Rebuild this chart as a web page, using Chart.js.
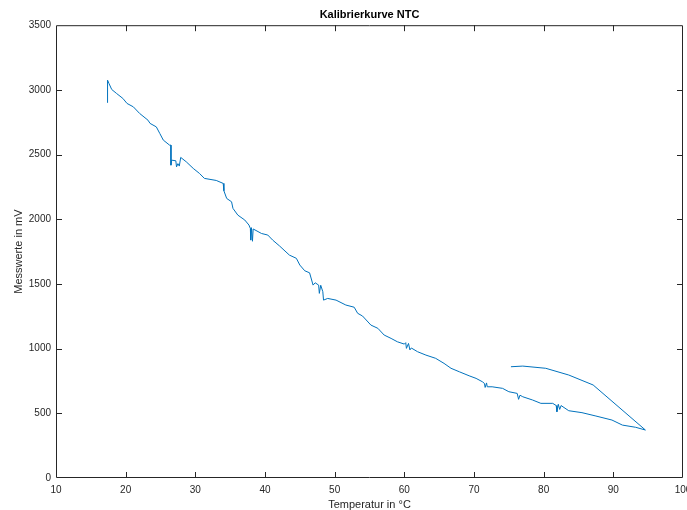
<!DOCTYPE html>
<html>
<head>
<meta charset="utf-8">
<script src="https://cdn.jsdelivr.net/npm/chart.js@4"></script>
<style>
  html, body { margin: 0; padding: 0; background: #fff; }
  #wrap { width: 687px; height: 510px; }
</style>
</head>
<body>
<div id="wrap"><canvas id="ntcChart"></canvas></div>
<script>
// Temperatur in °C (Messreihe, in Aufnahmereihenfolge)
const temperatur = [
  17.4, 17.4, 17.6, 18.0, 18.7, 19.6, 20.2, 21.1, 22.0, 23.2, 23.5, 24.4, 24.9, 25.4, 26.3,
  26.5, 26.5, 26.6, 27.2, 27.3, 27.5, 27.7, 27.9, 28.7, 29.7, 30.6, 31.3, 33.0, 34.0, 34.1,
  34.5, 35.2, 35.4, 36.1, 37.1, 37.7, 37.9, 37.95, 38.05, 38.2, 38.3, 39.5, 40.4, 41.1, 42.1,
  43.5, 44.5, 45.0, 45.7, 46.4, 46.9, 47.2, 47.7, 47.8, 48.0, 48.3, 48.4, 49.0, 50.2, 51.6,
  52.8, 53.3, 54.0, 55.2, 56.2, 57.1, 58.1, 59.0, 60.0, 60.2, 60.3, 60.6, 60.8, 61.0, 61.9,
  63.1, 64.5, 65.7, 66.7, 67.9, 69.3, 70.3, 71.2, 71.5, 71.6, 71.8, 71.9, 72.6, 74.1, 75.0,
  76.2, 76.4, 76.6, 77.0, 78.4, 79.6, 81.3, 81.8, 81.9, 82.1, 82.3, 82.5, 83.6, 85.5, 87.5,
  89.8, 91.3, 93.2, 94.6, 87.1, 83.6, 80.3, 77.0, 75.3
];
// Messwerte in mV
const messwerte = [
  2900, 3075, 3050, 3003, 2972, 2934, 2895, 2869, 2818, 2766, 2741, 2714, 2663, 2612, 2573,
  2573, 2418, 2457, 2452, 2405, 2430, 2411, 2478, 2444, 2393, 2354, 2316, 2300, 2277, 2220,
  2161, 2135, 2084, 2032, 1994, 1955, 1929, 1839, 1935, 1830, 1925, 1890, 1878, 1839, 1793,
  1723, 1698, 1646, 1602, 1586, 1491, 1509, 1491, 1427, 1490, 1440, 1375, 1388, 1375, 1337,
  1320, 1273, 1252, 1182, 1157, 1105, 1079, 1053, 1035, 1046, 1002, 1040, 990, 1005, 976,
  950, 925, 886, 848, 821, 790, 770, 744, 731, 700, 735, 705, 705, 693, 667,
  654, 608, 640, 628, 603, 577, 577, 560, 512, 570, 530, 560, 520, 505, 479,
  448, 409, 392, 371, 719, 796, 848, 865, 860
];

const xTicks = [10, 20, 30, 40, 50, 60, 70, 80, 90, 100];
const yTicks = [0, 500, 1000, 1500, 2000, 2500, 3000, 3500];

const axisColor = '#262626';
const lineColor = '#0072BD';
const fontFam = 'Liberation Sans, Arial, sans-serif';

// MATLAB-Stil: Rahmen und nach innen zeigende Ticks
const boxTicks = {
  id: 'boxTicks',
  afterDraw(chart) {
    const { ctx, chartArea: a, scales } = chart;
    const len = 6;
    ctx.save();
    ctx.strokeStyle = axisColor;
    ctx.lineWidth = 1;
    ctx.beginPath();
    ctx.rect(a.left + 0.5, a.top + 0.5, a.right - a.left - 1, a.bottom - a.top - 1);
    scales.x.ticks.forEach(t => {
      const px = Math.round(scales.x.getPixelForValue(t.value)) + 0.5;
      if (t.value === xTicks[0] || t.value === xTicks[xTicks.length - 1]) return;
      ctx.moveTo(px, a.bottom); ctx.lineTo(px, a.bottom - len);
      ctx.moveTo(px, a.top); ctx.lineTo(px, a.top + len);
    });
    scales.y.ticks.forEach(t => {
      const py = Math.round(scales.y.getPixelForValue(t.value)) + 0.5;
      if (t.value === yTicks[0] || t.value === yTicks[yTicks.length - 1]) return;
      ctx.moveTo(a.left, py); ctx.lineTo(a.left + len, py);
      ctx.moveTo(a.right, py); ctx.lineTo(a.right - len, py);
    });
    ctx.stroke();
    ctx.restore();
  }
};

new Chart(document.getElementById('ntcChart'), {
  type: 'scatter',
  data: {
    datasets: [{
      data: temperatur.map((t, i) => ({ x: t, y: messwerte[i] })),
      showLine: true,
      borderColor: lineColor,
      borderWidth: 1,
      pointRadius: 0,
      tension: 0
    }]
  },
  options: {
    responsive: true,
    maintainAspectRatio: false,
    animation: false,
    layout: { padding: { left: 0, right: 4, top: 0, bottom: 0 } },
    plugins: {
      legend: { display: false },
      tooltip: { enabled: false },
      title: {
        display: true,
        text: 'Kalibrierkurve NTC',
        fullSize: false,
        color: '#000',
        font: { family: fontFam, size: 11, weight: 'bold' },
        padding: { top: 8, bottom: 4 }
      }
    },
    scales: {
      x: {
        type: 'linear',
        min: 10,
        max: 100,
        afterBuildTicks: s => { s.ticks = xTicks.map(v => ({ value: v })); },
        afterFit: s => { s.height = 32; s.paddingLeft = 0; s.paddingRight = 0; },
        grid: { display: false, drawTicks: false },
        border: { display: false },
        ticks: {
          color: axisColor,
          padding: 6,
          maxRotation: 0,
          callback: v => String(v),
          font: { family: fontFam, size: 10 }
        },
        title: {
          display: true,
          text: 'Temperatur in °C',
          color: axisColor,
          padding: { top: 0, bottom: -2 },
          font: { family: fontFam, size: 11 }
        }
      },
      y: {
        type: 'linear',
        min: 0,
        max: 3500,
        afterBuildTicks: s => { s.ticks = yTicks.map(v => ({ value: v })); },
        afterFit: s => { s.width = 56; s.paddingTop = 0; s.paddingBottom = 0; },
        grid: { display: false, drawTicks: false },
        border: { display: false },
        ticks: {
          color: axisColor,
          padding: 5,
          callback: v => String(v),
          font: { family: fontFam, size: 10 }
        },
        title: {
          display: true,
          text: 'Messwerte in mV',
          color: axisColor,
          padding: { top: 12, bottom: 0 },
          font: { family: fontFam, size: 11 }
        }
      }
    }
  },
  plugins: [boxTicks]
});
</script>
</body>
</html>
